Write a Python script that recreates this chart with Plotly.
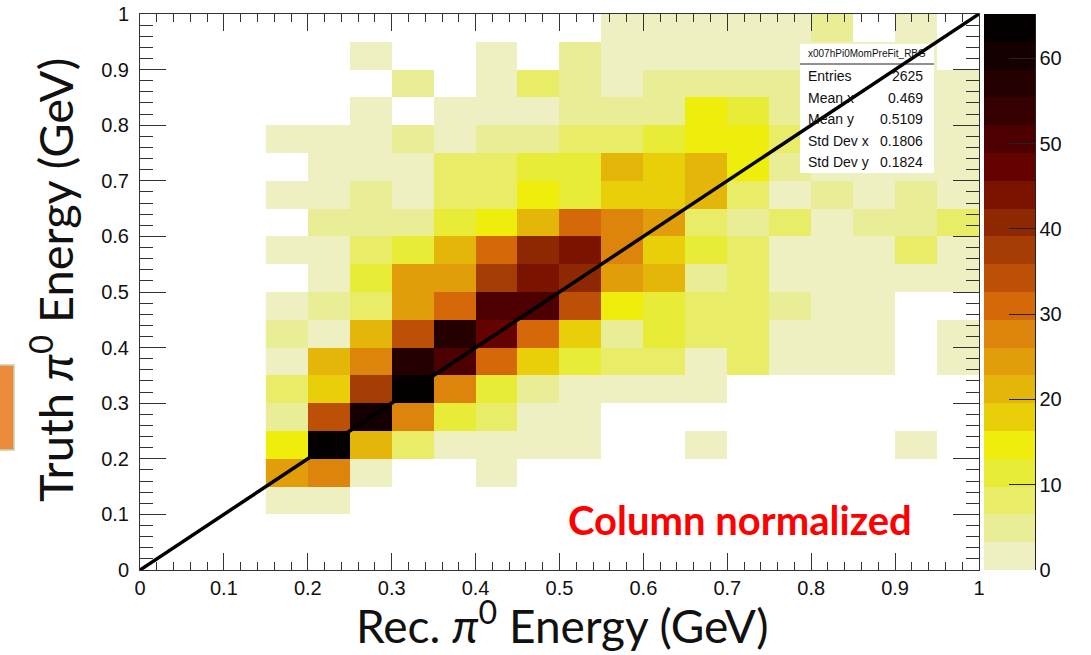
import plotly.graph_objects as go

# ---------------- data ----------------
x_centers = [0.175, 0.225, 0.275, 0.325, 0.375, 0.425, 0.475, 0.525, 0.575,
             0.625, 0.675, 0.725, 0.775, 0.825, 0.875, 0.925, 0.975]
y_centers = [0.025, 0.075, 0.125, 0.175, 0.225, 0.275, 0.325, 0.375, 0.425, 0.475,
             0.525, 0.575, 0.625, 0.675, 0.725, 0.775, 0.825, 0.875, 0.925, 0.975]
N = None
# rows = truth-energy bins (bottom -> top), columns = reco-energy bins 0.15..1.0
z_rows = [
    [N, N, N, N, N, N, N, N, N, N, N, N, N, N, N, N, N],
    [N, N, N, N, N, N, N, N, N, N, N, N, N, N, N, N, N],
    [2, 2, N, N, N, N, N, N, N, N, N, N, N, N, N, N, N],
    [24, 28, 2, N, N, 2, N, N, N, N, N, N, N, N, N, N, N],
    [15, 64, 21, 8, 2, 2, 2, 2, N, N, 2, N, N, N, N, 2, N],
    [5, 34, 60, 28, 11, 8, 2, 2, N, N, N, N, N, N, N, N, N],
    [8, 18, 37, 64, 28, 11, 5, 2, 2, 2, 2, N, N, N, N, N, N],
    [2, 21, 28, 57, 50, 31, 18, 11, 8, 8, 2, 8, 2, 2, 2, N, 2],
    [5, 2, 21, 34, 57, 47, 31, 18, 5, 11, 8, 8, 2, 2, 2, N, 2],
    [2, 5, 8, 24, 31, 50, 50, 34, 15, 11, 8, 8, 5, 2, 2, N, N],
    [N, 2, 11, 24, 24, 37, 44, 41, 24, 21, 5, 8, 2, 2, 2, 2, 2],
    [2, 2, 8, 11, 21, 31, 41, 44, 28, 18, 11, 8, 2, 2, 2, 8, 2],
    [N, 5, 5, 5, 11, 15, 21, 31, 28, 24, 8, 5, 8, 2, 5, 5, 8],
    [2, 2, 5, 2, 8, 8, 15, 11, 18, 18, 21, 8, 2, 5, 2, 5, 2],
    [N, 2, 2, 2, 8, 8, 11, 11, 21, 18, 21, 15, 5, 2, 2, 2, 2],
    [2, 2, 2, 5, 2, 5, 5, 8, 8, 11, 15, 15, 8, 2, 2, 2, 2],
    [N, N, 2, N, 2, 2, 2, 5, 5, 5, 15, 11, 5, 2, 2, 2, 2],
    [N, N, N, 5, N, 2, 8, 5, 2, 5, 5, 5, 5, 2, 2, 2, 2],
    [N, N, 2, N, N, 2, N, 5, 2, 2, 2, 2, 2, 2, 2, 2, N],
    [N, N, N, N, N, N, N, N, 2, 2, 2, 2, 2, 5, N, 2, N],
]
z_max = 65.2
band_colors = ["#EEF0C2", "#E9ED96", "#E8EC66", "#E9EC36", "#EEED0C",
               "#E9CE0A", "#E5B60A", "#E19E0A", "#DC840C", "#D5690A",
               "#BC5006", "#A43C04", "#8D2802", "#7A1400", "#640200",
               "#4C0000", "#360000", "#240000", "#140000", "#040000"]
cbar_ticks = [0, 10, 20, 30, 40, 50, 60]
axis_ticks = [0, 0.1, 0.2, 0.3, 0.4, 0.5, 0.6, 0.7, 0.8, 0.9, 1]
axis_ticktext = ["0", "0.1", "0.2", "0.3", "0.4", "0.5", "0.6", "0.7", "0.8", "0.9", "1"]
stat_title = "x007hPi0MomPreFit_RBG"
stat_labels = ["Entries", "Mean x", "Mean y", "Std Dev x", "Std Dev y"]
stat_values = ["2625", "0.469", "0.5109", "0.1806", "0.1824"]

# ---------------- layout geometry (pixels) ----------------
W, H = 1091, 655
L, R, T, B = 140, 979, 14, 570


def fx(xp):
    return xp / W


def fy(yp):
    return (H - yp) / H


n = len(band_colors)
colorscale = []
for k, c in enumerate(band_colors):
    colorscale.append([k / n, c])
    colorscale.append([(k + 1) / n, c])

fig = go.Figure()
fig.add_trace(go.Heatmap(
    x=x_centers, y=y_centers, z=z_rows,
    zmin=0, zmax=z_max, colorscale=colorscale,
    hoverongaps=False,
    colorbar=dict(
        x=fx(984), xanchor="left", xpad=0, ypad=0,
        y=fy((T + B) / 2), yanchor="middle", len=B - T, lenmode="pixels",
        thickness=51, thicknessmode="pixels", outlinewidth=0,
        tickmode="array", tickvals=cbar_ticks, tickprefix="\u00a0",
        ticks="inside", ticklen=26, tickwidth=1, tickcolor="#222",
        tickfont=dict(family="Liberation Sans", size=20, color="#111"),
    ),
))

tickfont = dict(family="Liberation Sans", size=20, color="#111")
fig.update_xaxes(
    domain=[fx(L), fx(R)], automargin=False,
    range=[0, 1], tickmode="array", tickvals=axis_ticks, ticktext=axis_ticktext,
    ticks="inside", ticklen=17, tickwidth=1, tickcolor="#333",
    minor=dict(dtick=0.02, tick0=0, ticks="inside", ticklen=8, tickcolor="#333", showgrid=False),
    showline=True, linecolor="#333", linewidth=1, mirror="ticks",
    showgrid=False, zeroline=False, tickfont=tickfont, ticklabelstandoff=0,
)
fig.update_yaxes(
    domain=[fy(B), fy(T)], automargin=False,
    range=[0, 1], tickmode="array", tickvals=axis_ticks, ticktext=axis_ticktext,
    ticks="inside", ticklen=26, tickwidth=1, tickcolor="#333",
    minor=dict(dtick=0.02, tick0=0, ticks="inside", ticklen=13, tickcolor="#333", showgrid=False),
    showline=True, linecolor="#333", linewidth=1, mirror="ticks",
    showgrid=False, zeroline=False, tickfont=tickfont, ticklabelstandoff=6,
)

shapes = [
    # stats box
    dict(type="rect", xref="paper", yref="paper", x0=fx(800), x1=fx(934), y0=fy(173), y1=fy(44),
         fillcolor="white", line=dict(width=0), layer="above"),
    dict(type="line", xref="paper", yref="paper", x0=fx(800), x1=fx(934), y0=fy(64), y1=fy(64),
         line=dict(color="#222", width=1), layer="above"),
    # diagonal y = x
    dict(type="line", xref="x", yref="y", x0=0, y0=0, x1=1, y1=1,
         line=dict(color="black", width=3.5), layer="above"),
    # colorbar axis line
    dict(type="line", xref="paper", yref="paper", x0=fx(1035.5), x1=fx(1035.5), y0=fy(B), y1=fy(T),
         line=dict(color="#222", width=1), layer="above"),
    # orange slide tab at left edge
    dict(type="rect", xref="paper", yref="paper", x0=fx(-3), x1=fx(14), y0=fy(450), y1=fy(365),
         fillcolor="#ED8B3D", line=dict(color="#C9D3A8", width=1.5), layer="above"),
]

annotations = [
    dict(text=stat_title, xref="paper", yref="paper", x=fx(867), y=fy(53),
         xanchor="center", yanchor="middle", showarrow=False,
         font=dict(family="Liberation Sans", size=10, color="#111")),
    dict(text="Column normalized", xref="paper", yref="paper", x=fx(740), y=fy(520),
         xanchor="center", yanchor="middle", showarrow=False,
         font=dict(family="Lato", size=40, color="#FF0000", weight="bold")),
    dict(text="Rec. <i>π</i><sup>0</sup> Energy (GeV)", xref="paper", yref="paper",
         x=fx(562), y=fy(655), xanchor="center", yanchor="bottom", showarrow=False,
         font=dict(family="Lato", size=46, color="#111")),
    dict(text="Truth <i>π</i><sup>0</sup> Energy (GeV)", xref="paper", yref="paper",
         x=fx(52), y=fy(280), xanchor="center", yanchor="middle", showarrow=False, textangle=-90,
         font=dict(family="Lato", size=47, color="#111")),
]
stat_rows_y = [76, 97.7, 119, 140.7, 161.7]
for lab, val, yy in zip(stat_labels, stat_values, stat_rows_y):
    annotations.append(dict(text=lab, xref="paper", yref="paper", x=fx(806), y=fy(yy),
                            xanchor="left", yanchor="middle", showarrow=False,
                            font=dict(family="Liberation Sans", size=14, color="#111")))
    annotations.append(dict(text=val, xref="paper", yref="paper", x=fx(925), y=fy(yy),
                            xanchor="right", yanchor="middle", showarrow=False,
                            font=dict(family="Liberation Sans", size=14, color="#111")))

fig.update_layout(
    width=W, height=H, autosize=False,
    margin=dict(l=0, r=0, t=0, b=0, pad=0),
    paper_bgcolor="white", plot_bgcolor="white",
    shapes=shapes, annotations=annotations, showlegend=False,
)

fig.write_html("out.html")
